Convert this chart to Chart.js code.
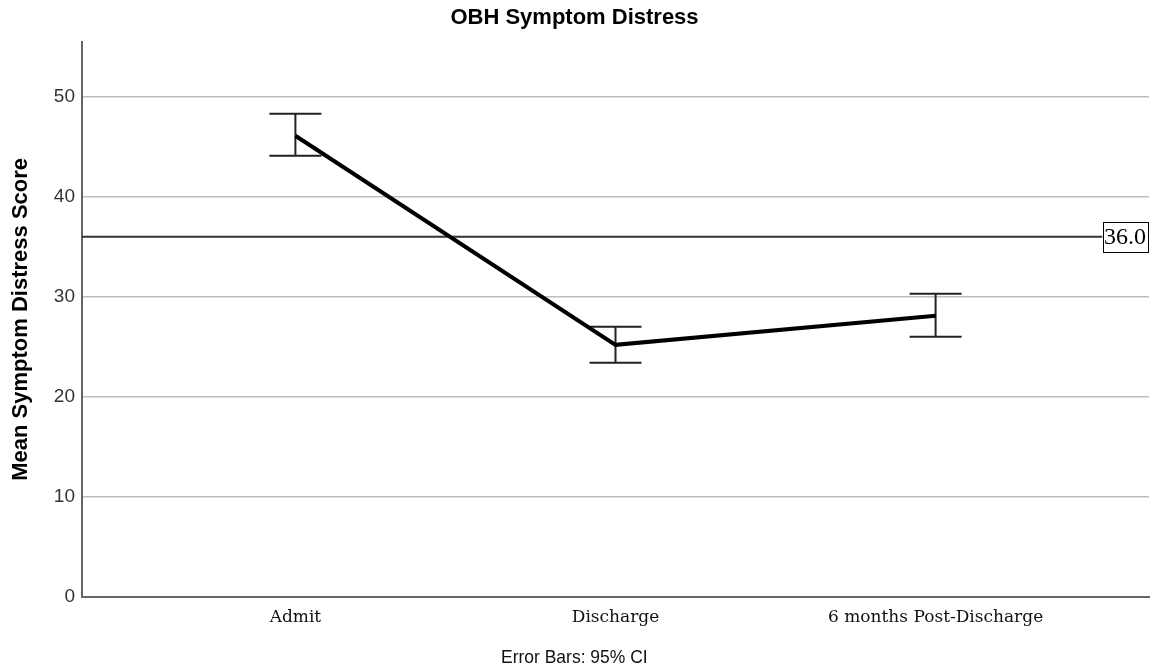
<!DOCTYPE html>
<html><head><meta charset="utf-8">
<script src="https://cdn.jsdelivr.net/npm/chart.js@4.4.0/dist/chart.umd.min.js"></script>
<style>html,body{margin:0;padding:0;background:#fff;}#wrap{width:1155px;height:671px;position:relative;}</style>
</head><body><div id="wrap"><canvas id="c" width="1155" height="671"></canvas></div>
<script>
const categories = ['Admit', 'Discharge', '6 months Post-Discharge'];
const meanScores = [46.1, 25.2, 28.1];
const ciLower = [44.1, 23.4, 26.0];
const ciUpper = [48.3, 27.0, 30.3];
const yTicks = [0, 10, 20, 30, 40, 50];
const referenceValue = 36.0;
const chartTitle = 'OBH Symptom Distress';
const yTitle = 'Mean Symptom Distress Score';
const footnote = 'Error Bars: 95% CI';

const errorBarPlugin = {
  id: 'errorBars',
  beforeDatasetsDraw(chart) {
    const {ctx, scales: {x, y}} = chart;
    ctx.save();
    ctx.strokeStyle = '#222';
    ctx.lineWidth = 2;
    const half = 26;
    categories.forEach((c, i) => {
      const px = x.getPixelForValue(i);
      const yl = y.getPixelForValue(ciLower[i]);
      const yu = y.getPixelForValue(ciUpper[i]);
      ctx.beginPath();
      ctx.moveTo(px, yl); ctx.lineTo(px, yu);
      ctx.moveTo(px - half, yl); ctx.lineTo(px + half, yl);
      ctx.moveTo(px - half, yu); ctx.lineTo(px + half, yu);
      ctx.stroke();
    });
    ctx.restore();
  }
};

function refBox(chart) {
  const {ctx, chartArea} = chart;
  ctx.save();
  ctx.font = '24px "Liberation Serif"';
  const label = referenceValue.toFixed(1);
  const tw = ctx.measureText(label).width;
  ctx.restore();
  const bw = tw + 3, bh = 30;
  const bx = chartArea.right - 1.5 - bw;
  const y = chart.scales.y.getPixelForValue(referenceValue);
  return {label, bx, bw, bh, y};
}

const refLinePlugin = {
  id: 'refLine',
  beforeDatasetsDraw(chart) {
    const {ctx, chartArea} = chart;
    const b = refBox(chart);
    ctx.save();
    ctx.strokeStyle = '#333';
    ctx.lineWidth = 2;
    ctx.beginPath();
    ctx.moveTo(chartArea.left, b.y);
    ctx.lineTo(b.bx, b.y);
    ctx.stroke();
    ctx.restore();
  },
  afterDatasetsDraw(chart) {
    const {ctx} = chart;
    const b = refBox(chart);
    ctx.save();
    ctx.fillStyle = '#fff';
    ctx.fillRect(b.bx, b.y - b.bh / 2, b.bw, b.bh);
    ctx.strokeStyle = '#000';
    ctx.lineWidth = 1;
    ctx.strokeRect(Math.round(b.bx) + 0.5, Math.round(b.y - b.bh / 2) + 0.5, Math.round(b.bw), b.bh);
    ctx.fillStyle = '#000';
    ctx.font = '24px "Liberation Serif"';
    ctx.textAlign = 'center';
    ctx.textBaseline = 'middle';
    ctx.fillText(b.label, b.bx + b.bw / 2, b.y + 1);
    ctx.restore();
  }
};

const footnotePlugin = {
  id: 'footnote',
  afterDraw(chart) {
    const {ctx} = chart;
    ctx.save();
    ctx.translate(501, 658);
    ctx.scale(0.92, 1);
    ctx.font = '19px "Liberation Sans"';
    ctx.fillStyle = '#111';
    ctx.textAlign = 'left';
    ctx.textBaseline = 'middle';
    ctx.fillText(footnote, 0, 0);
    ctx.restore();
  }
};

new Chart(document.getElementById('c'), {
  type: 'line',
  data: {
    datasets: [{
      data: meanScores.map((v, i) => ({x: i, y: v})),
      borderColor: '#000',
      borderWidth: 4,
      pointRadius: 0,
      tension: 0,
      fill: false
    }]
  },
  options: {
    responsive: false,
    animation: false,
    layout: {padding: {left: 0, right: 6, top: 0, bottom: 0}},
    plugins: {
      legend: {display: false},
      tooltip: {enabled: false},
      title: {
        display: true,
        text: chartTitle,
        color: '#000',
        font: {family: 'Liberation Sans', size: 22, weight: 'bold'},
        padding: {top: 5, bottom: 10.3}
      }
    },
    scales: {
      x: {
        type: 'linear',
        min: -2 / 3,
        max: 8 / 3,
        afterBuildTicks: s => { s.ticks = categories.map((c, i) => ({value: i})); },
        afterFit: s => { s.height = 74; },
        grid: {display: false, drawTicks: false},
        border: {display: true, color: '#666', width: 2},
        ticks: {
          autoSkip: false,
          maxRotation: 0,
          padding: 10,
          color: '#111',
          font: {family: 'DejaVu Serif', size: 17},
          callback: v => categories[v]
        }
      },
      y: {
        min: 0,
        max: 55.5,
        afterBuildTicks: s => { s.ticks = yTicks.map(v => ({value: v})); },
        afterFit: s => { s.width = 82; },
        grid: {color: '#bdbdbd', lineWidth: 1.5, drawTicks: false},
        border: {display: true, color: '#666', width: 2},
        ticks: {
          padding: 7,
          color: '#333',
          font: {family: 'Liberation Sans', size: 19}
        },
        title: {
          display: true,
          text: yTitle,
          color: '#000',
          font: {family: 'Liberation Sans', size: 22, weight: 'bold'},
          padding: {top: 8, bottom: 0}
        }
      }
    }
  },
  plugins: [errorBarPlugin, refLinePlugin, footnotePlugin]
});
</script>
</body></html>
